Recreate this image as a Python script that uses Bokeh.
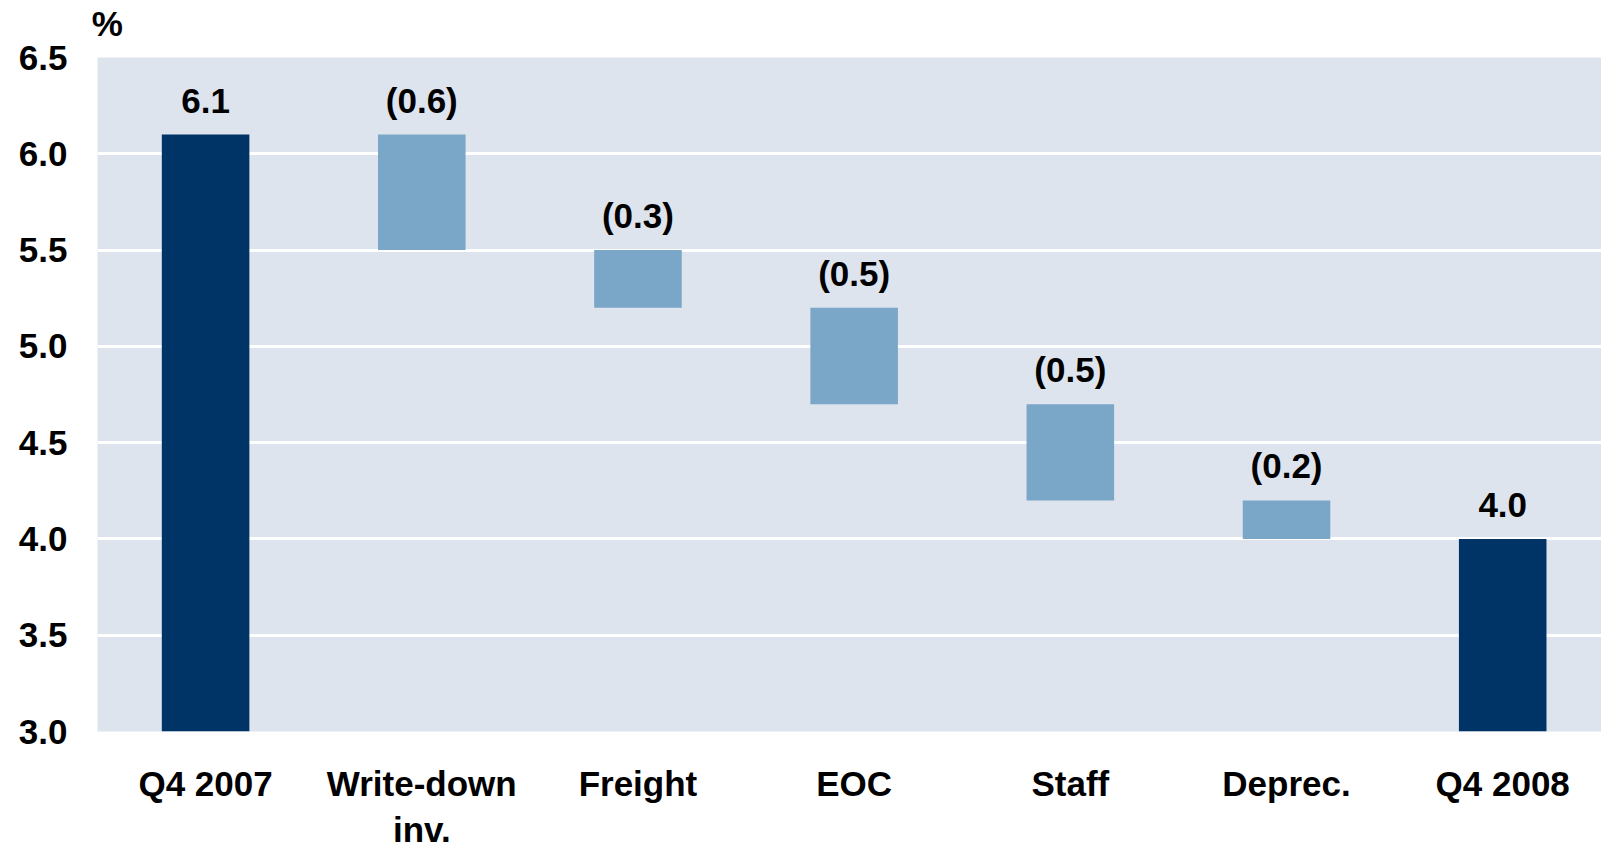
import numpy as np
from bokeh.plotting import figure
from bokeh.models import ColumnDataSource, LabelSet, FixedTicker, Range1d, LinearAxis
from bokeh.core.properties import value
from bokeh.embed import file_html
from bokeh.resources import INLINE

categories = ["Q4 2007", "Write-down\ninv.", "Freight", "EOC", "Staff", "Deprec.", "Q4 2008"]
changes = [6.1, -0.6, -0.3, -0.5, -0.5, -0.2, 4.0]
is_total = [True, False, False, False, False, False, True]
y_ticks = [3.0, 3.5, 4.0, 4.5, 5.0, 5.5, 6.0, 6.5]
unit_label = "%"

DARK = "#003366"
LIGHT = "#7AA6C7"
BG = "#DDE4EE"
FONT = "Liberation Sans"
FS = "35px"

tops, bottoms, labels, colors = [], [], [], []
level = 0.0
for v, tot in zip(changes, is_total):
    if tot:
        tops.append(v)
        bottoms.append(0.0)
        labels.append(f"{v:.1f}")
        colors.append(DARK)
        level = v
    else:
        tops.append(level)
        bottoms.append(level + v)
        labels.append(f"({abs(v):.1f})")
        colors.append(LIGHT)
        level = level + v

xs = list(np.arange(len(categories)) + 0.5)
src = ColumnDataSource(dict(x=xs, top=tops, bottom=bottoms, label=labels, color=colors))

p = figure(frame_width=1504, frame_height=674, output_backend="svg", toolbar_location=None,
           title=None,
           x_range=Range1d(0, 6.957), y_range=Range1d(3.0, 6.5),
           min_border_left=97, min_border_top=57, min_border_right=0, min_border_bottom=100)
p.background_fill_color = BG
p.border_fill_color = "white"
p.outline_line_color = None

p.vbar(x="x", top="top", bottom="bottom", width=0.405, fill_color="color",
       line_color=None, source=src)

p.add_layout(LabelSet(x="x", y="top", text="label", source=src, y_offset=22,
                      text_align="center", text_baseline="alphabetic",
                      text_font=value(FONT), text_font_style="bold", text_font_size=FS,
                      text_color="black"))

# unit label "%" drawn as a single tick label on an axis above the frame
unit_axis = LinearAxis(ticker=FixedTicker(ticks=[0.045]),
                       major_label_overrides={0.045: unit_label})
p.add_layout(unit_axis, "above")

p.xgrid.grid_line_color = None
p.ygrid.grid_line_color = "white"
p.ygrid.grid_line_width = 3
p.ygrid.ticker = FixedTicker(ticks=y_ticks)

p.yaxis.ticker = FixedTicker(ticks=y_ticks)
p.yaxis.major_label_overrides = {t: f"{t:.1f}" for t in y_ticks}
p.below[0].ticker = FixedTicker(ticks=xs)
p.below[0].major_label_overrides = {x: c for x, c in zip(xs, categories)}

for ax in [p.below[0], unit_axis] + list(p.yaxis):
    ax.axis_line_color = None
    ax.major_tick_line_color = None
    ax.minor_tick_line_color = None
    ax.major_tick_out = 0
    ax.major_tick_in = 0
    ax.minor_tick_out = 0
    ax.minor_tick_in = 0
    ax.major_label_text_font = FONT
    ax.major_label_text_font_style = "bold"
    ax.major_label_text_font_size = FS
    ax.major_label_text_color = "black"
p.yaxis.major_label_standoff = 30
p.below[0].major_label_standoff = 32
unit_axis.major_label_standoff = 15

open("out.html", "w").write(file_html(p, INLINE))
